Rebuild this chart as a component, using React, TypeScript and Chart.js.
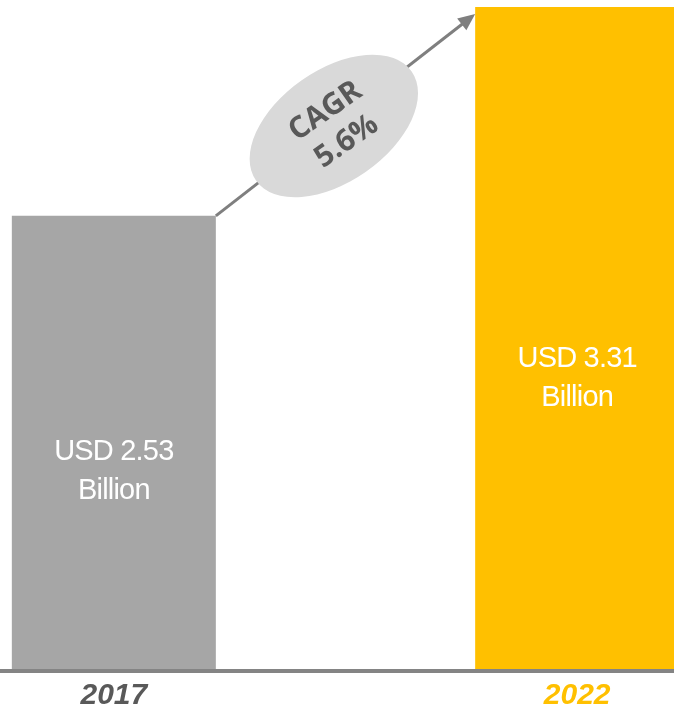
import React, { useEffect, useRef } from "react";
import { Chart, registerables } from "chart.js";

Chart.register(...registerables);

const categories = ["2017", "", "2022"];
const marketValues: (number | null)[] = [2.53, null, 3.31];
const barLabels = [["USD 2.53", "Billion"], [], ["USD 3.31", "Billion"]];
const cagrLines = ["CAGR", "5.6%"];
const barColors = ["#A6A6A6", "#A6A6A6", "#FFC000"];
const tickColors = ["#595959", "#595959", "#FFC000"];

const overlayPlugin = {
  id: "overlay",
  afterDatasetsDraw(chart: any) {
    const ctx = chart.ctx;
    const bottom = chart.chartArea.bottom - 2;
    const meta = chart.getDatasetMeta(0);
    const b1 = meta.data[0].getProps(["x", "y", "width"], true);
    const b2 = meta.data[2].getProps(["x", "y", "width"], true);

    // data labels
    ctx.save();
    ctx.fillStyle = "#FFFFFF";
    ctx.font = "29px 'Liberation Sans', Arial, sans-serif";
    (ctx as any).letterSpacing = "-0.8px";
    ctx.textAlign = "center";
    ctx.textBaseline = "alphabetic";
    [0, 2].forEach((i) => {
      const el = meta.data[i].getProps(["x", "y"], true);
      const lines = barLabels[i];
      const cy = el.y + (bottom - el.y) * 0.558;
      ctx.fillText(lines[0], el.x, cy - 9);
      ctx.fillText(lines[1], el.x, cy + 30);
    });
    ctx.restore();

    // arrow
    const sx = b1.x + b1.width / 2;
    const sy = b1.y;
    const ex = b2.x - b2.width / 2;
    const ey = b2.y + 7;
    const ang = Math.atan2(ey - sy, ex - sx);
    const headLen = 17;
    const headHalf = 7.5;
    ctx.save();
    ctx.strokeStyle = "#7F7F7F";
    ctx.fillStyle = "#7F7F7F";
    ctx.lineWidth = 3;
    ctx.beginPath();
    ctx.moveTo(sx, sy);
    ctx.lineTo(ex - Math.cos(ang) * (headLen - 2), ey - Math.sin(ang) * (headLen - 2));
    ctx.stroke();
    ctx.beginPath();
    ctx.moveTo(ex, ey);
    const bx = ex - Math.cos(ang) * headLen;
    const by = ey - Math.sin(ang) * headLen;
    ctx.lineTo(bx + Math.sin(ang) * headHalf, by - Math.cos(ang) * headHalf);
    ctx.lineTo(bx - Math.sin(ang) * headHalf, by + Math.cos(ang) * headHalf);
    ctx.closePath();
    ctx.fill();

    // ellipse
    const t = 0.455;
    const cx = sx + (ex - sx) * t;
    const cy = sy + (ey - sy) * t + 2;
    ctx.fillStyle = "#D9D9D9";
    ctx.beginPath();
    ctx.ellipse(cx, cy, 95, 56, (-35 * Math.PI) / 180, 0, Math.PI * 2);
    ctx.fill();

    ctx.translate(cx + 2, cy);
    ctx.rotate((-35 * Math.PI) / 180);
    ctx.fillStyle = "#595959";
    ctx.font = "bold 30px 'Open Sans', sans-serif";
    ctx.textAlign = "center";
    ctx.textBaseline = "middle";
    ctx.fillText(cagrLines[0], 0, -18);
    ctx.fillText(cagrLines[1], 0, 19);
    ctx.restore();
  },
};

export default function App() {
  const ref = useRef<HTMLCanvasElement | null>(null);
  useEffect(() => {
    if (!ref.current) return;
    const chart = new Chart(ref.current, {
      type: "bar",
      data: {
        labels: categories,
        datasets: [
          {
            data: marketValues,
            backgroundColor: barColors,
            borderWidth: 0,
            barPercentage: 0.8806,
            categoryPercentage: 1,
          },
        ],
      },
      options: {
        responsive: false,
        animation: false,
        devicePixelRatio: 1,
        layout: { padding: { top: 7, left: 0, right: 0, bottom: 0 } },
        plugins: { legend: { display: false }, tooltip: { enabled: false } },
        scales: {
          x: {
            afterFit: (scale: any) => {
              scale.height = 42;
            },
            grid: { display: false, drawTicks: false, tickLength: 0 },
            border: { display: true, color: "#848484", width: 4, z: 1 },
            ticks: {
              autoSkip: false,
              maxRotation: 0,
              padding: 7,
              color: (c: any) => tickColors[c.index] || "#595959",
              font: { family: "'Liberation Sans', Arial, sans-serif", size: 30, style: "italic", weight: "bold", lineHeight: 1.2 },
            },
          },
          y: { display: false, min: 0.83, max: 3.31 },
        },
      },
      plugins: [overlayPlugin],
    });
    return () => chart.destroy();
  }, []);
  return (
    <div style={{ position: "absolute", left: 0, top: 0, width: 674, height: 713, overflow: "hidden", background: "#fff" }}>
      <div style={{ position: "absolute", left: -2, top: 0, width: 695, height: 713 }}>
        <canvas ref={ref} width={695} height={713} style={{ display: "block" }} />
      </div>
    </div>
  );
}
